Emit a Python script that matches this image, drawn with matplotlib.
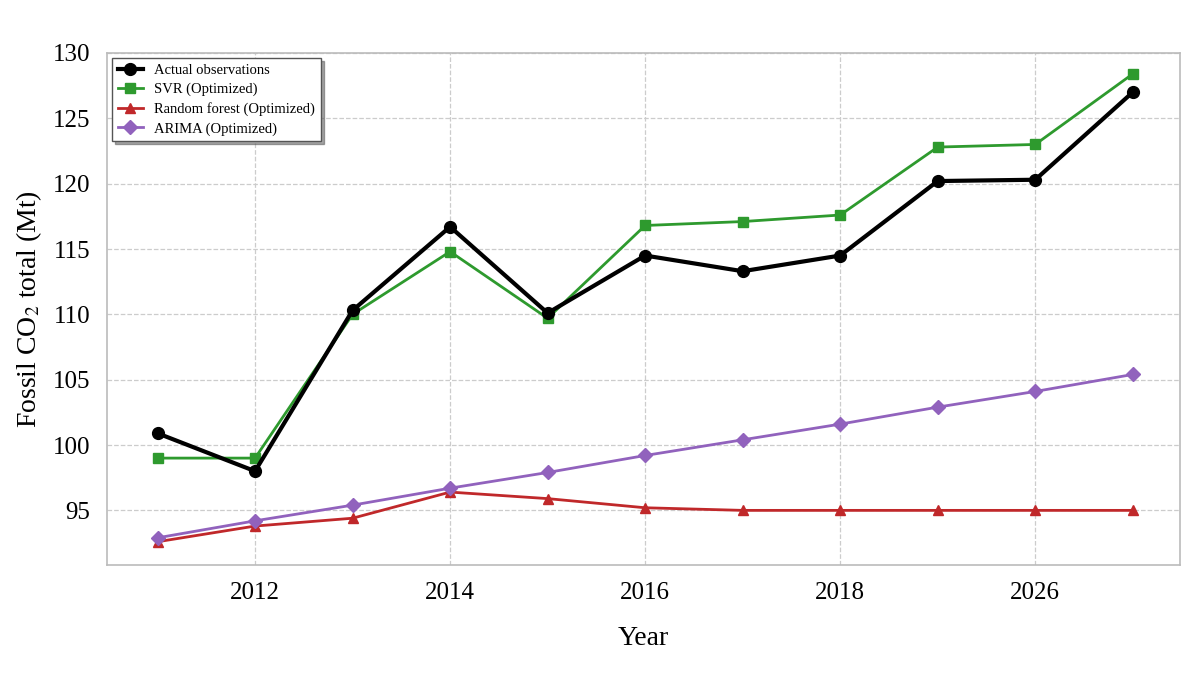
import numpy as np
import matplotlib
matplotlib.use("Agg")
import matplotlib.pyplot as plt

plt.rcParams['font.family'] = ['Liberation Serif', 'DejaVu Serif']
plt.rcParams['mathtext.fontset'] = 'stix'

years = [2011, 2012, 2013, 2014, 2015, 2016, 2017, 2018, 2019, 2020, 2021]
actual = [100.9, 98.0, 110.3, 116.7, 110.1, 114.5, 113.3, 114.5, 120.2, 120.3, 127.0]
svr = [99.0, 99.0, 110.0, 114.8, 109.7, 116.8, 117.1, 117.6, 122.8, 123.0, 128.4]
rf = [92.6, 93.8, 94.4, 96.4, 95.9, 95.2, 95.0, 95.0, 95.0, 95.0, 95.0]
arima = [92.9, 94.2, 95.4, 96.7, 97.9, 99.2, 100.4, 101.6, 102.9, 104.1, 105.4]

xticks = [2012, 2014, 2016, 2018, 2020]
xtick_labels = ["2012", "2014", "2016", "2018", "2026"]
yticks = [95, 100, 105, 110, 115, 120, 125, 130]

fig = plt.figure(figsize=(12, 6.97), dpi=100)
ax = fig.add_axes([0.089, 0.189, 0.894, 0.735])

ax.plot(years, actual, color="black", lw=3, marker="o", ms=8.5, label="Actual observations", zorder=5)
ax.plot(years, svr, color="#2e9a2e", lw=2, marker="s", ms=7, label="SVR (Optimized)", zorder=4)
ax.plot(years, rf, color="#c0282a", lw=2, marker="^", ms=7, label="Random forest (Optimized)", zorder=3)
ax.plot(years, arima, color="#9162bd", lw=2, marker="D", ms=7, label="ARIMA (Optimized)", zorder=3)

ax.set_xlim(2010.48, 2021.48)
ax.set_ylim(90.8, 130)
ax.set_xticks(xticks)
ax.set_xticklabels(xtick_labels)
ax.set_yticks(yticks)
ax.tick_params(labelsize=18, length=0, pad=12)
ax.grid(True, color="#cccccc", linestyle="--", linewidth=0.9)
for s in ax.spines.values():
    s.set_color("#bbbbbb")
    s.set_linewidth(1.2)

ax.set_xlabel("Year", fontsize=20, labelpad=16)
ax.set_ylabel("Fossil CO$_2$ total (Mt)", fontsize=20, labelpad=6)

leg = ax.legend(loc="upper left", fontsize=10.5, frameon=True, fancybox=False, shadow=True,
                borderpad=0.4, labelspacing=0.4, handlelength=1.7, borderaxespad=0.35)
leg.get_frame().set_edgecolor("#555555")

fig.savefig("out.png", dpi=100)
